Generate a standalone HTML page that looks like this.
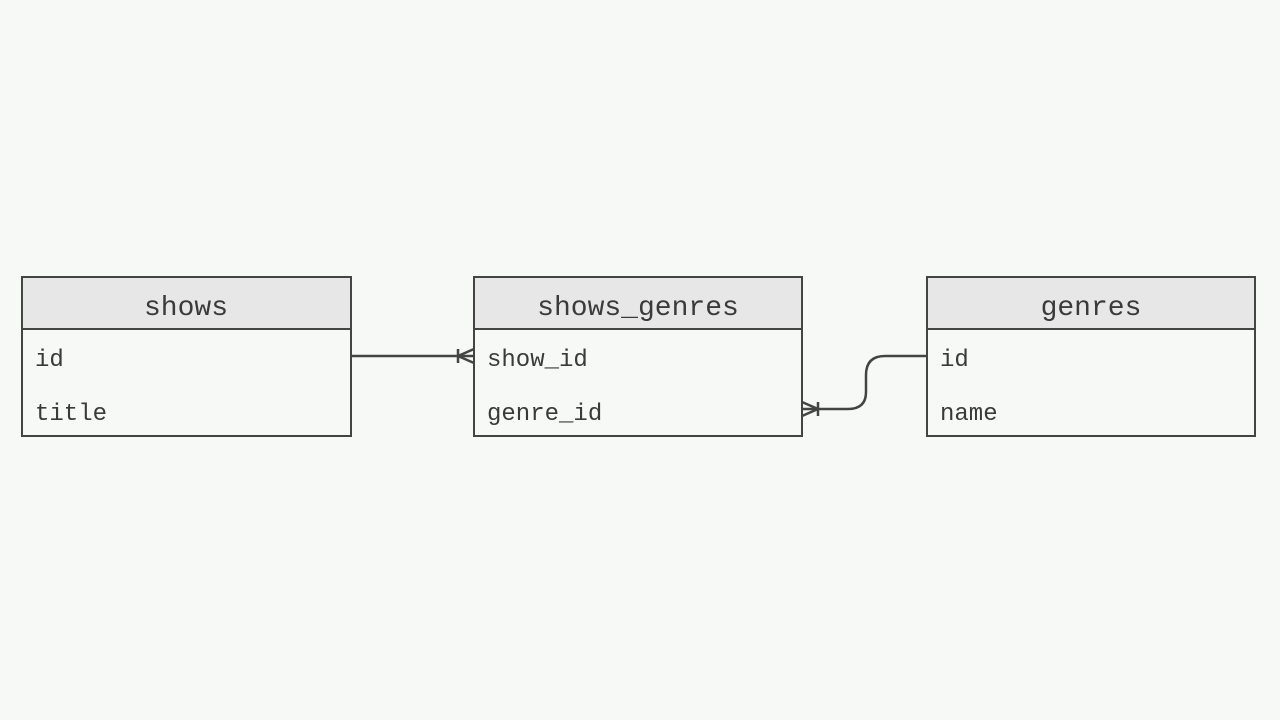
<!DOCTYPE html>
<html><head><style>
body{margin:0;background:#f7f9f7;}
svg{display:block}
text{font-family:"Liberation Mono",monospace;fill:#3a3a3a}
</style></head><body>
<svg width="1280" height="720" xmlns="http://www.w3.org/2000/svg">
<rect width="1280" height="720" fill="#f7f9f7"/>
<g stroke="#444" stroke-width="2">
<rect x="22" y="277" width="329" height="159" fill="#f7f9f7"/>
<rect x="22" y="277" width="329" height="52" fill="#e7e7e7"/>
<rect x="474" y="277" width="328" height="159" fill="#f7f9f7"/>
<rect x="474" y="277" width="328" height="52" fill="#e7e7e7"/>
<rect x="927" y="277" width="328" height="159" fill="#f7f9f7"/>
<rect x="927" y="277" width="328" height="52" fill="#e7e7e7"/>
</g>
<g font-size="28" text-anchor="middle">
<text x="186" y="315">shows</text>
<text x="638" y="315">shows_genres</text>
<text x="1091" y="315">genres</text>
</g>
<g font-size="24">
<text x="35" y="366">id</text>
<text x="35" y="420">title</text>
<text x="487" y="366">show_id</text>
<text x="487" y="420">genre_id</text>
<text x="940" y="366">id</text>
<text x="940" y="420">name</text>
</g>
<g stroke="#444" stroke-width="2.5" fill="none">
<path d="M351 356 H474"/>
<path d="M458 356 L474 349 M458 356 L474 363 M458 349 V363"/>
<path d="M927 356 H885 Q866 356 866 375 V392 Q866 409 848 409 H802"/>
<path d="M818 409 L802 402 M818 409 L802 416 M818 402 V416"/>
</g>
</svg>
</body></html>
